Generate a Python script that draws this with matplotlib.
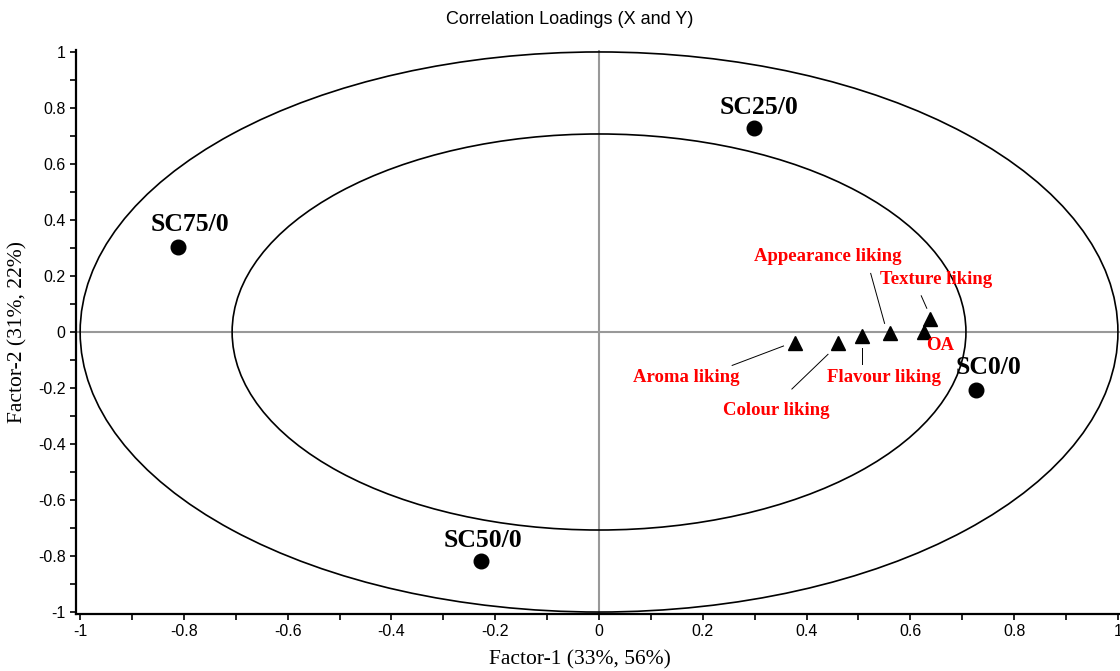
import numpy as np
import matplotlib
matplotlib.use('Agg')
import matplotlib.pyplot as plt
from matplotlib.patches import Ellipse
from matplotlib.ticker import MultipleLocator, FuncFormatter

# X loadings (samples)
sample_names = ['SC0/0', 'SC25/0', 'SC50/0', 'SC75/0']
sample_x = [0.727, 0.298, -0.227, -0.812]
sample_y = [-0.207, 0.729, -0.818, 0.304]

# Y loadings (liking attributes)
attr_names = ['Aroma liking', 'Colour liking', 'Flavour liking',
              'Appearance liking', 'OA', 'Texture liking']
attr_x = [0.377, 0.460, 0.506, 0.561, 0.627, 0.637]
attr_y = [-0.040, -0.040, -0.014, -0.004, 0.000, 0.045]

SERIF = ['Liberation Serif', 'DejaVu Serif']
SANS = ['Liberation Sans', 'DejaVu Sans']

fig = plt.figure(figsize=(11.2, 6.71), dpi=100)
ax = fig.add_axes([76 / 1120, 1 - 614 / 671, 1 - 76 / 1120, (614 - 50) / 671])
ax.set_xlim(-1.008, 1.004)
ax.set_ylim(-1.007, 1.007)

# explained variance circles (100% and 50%)
for r in (1.0, np.sqrt(0.5)):
    ax.add_patch(Ellipse((0, 0), 2 * r, 2 * r, fill=False, edgecolor='black',
                         linewidth=1.2, clip_on=False, zorder=2))

ax.axhline(0, color='#999999', linewidth=1.5, zorder=1)
ax.axvline(0, color='#999999', linewidth=1.5, zorder=1)

ax.plot(sample_x, sample_y, 'o', color='black', markersize=10.5, zorder=4, clip_on=False)
ax.plot(attr_x, attr_y, '^', color='black', markersize=10, zorder=4, clip_on=False)

# sample labels above points (offsets in points)
sample_off = {'SC0/0': (9, 16), 'SC25/0': (3.5, 15), 'SC50/0': (1.5, 15), 'SC75/0': (8.5, 16)}
for name, x, y in zip(sample_names, sample_x, sample_y):
    ax.annotate(name, (x, y), xytext=sample_off[name], textcoords='offset points',
                ha='center', va='center', fontsize=18.5, fontweight='bold',
                family=SERIF, color='black')

# attribute labels with leader lines (offsets in points)
label_pos = {
    'Aroma liking': (-78, -24.5),
    'Colour liking': (-44.5, -48.5),
    'Flavour liking': (16, -30),
    'Appearance liking': (-45, 55),
    'OA': (11.5, -10),
    'Texture liking': (5, 29),
}
leader = {
    'Aroma liking': ((-8, -2), (-45, -16)),
    'Colour liking': ((-7, -8), (-33, -33)),
    'Flavour liking': ((0, -9), (0, -20)),
    'Appearance liking': ((-4, 7), (-14, 43)),
    'OA': None,
    'Texture liking': ((-2, 8), (-6, 17)),
}
for name, x, y in zip(attr_names, attr_x, attr_y):
    dx, dy = label_pos[name]
    ax.annotate(name, (x, y), xytext=(dx, dy), textcoords='offset points',
                ha='center', va='center', fontsize=13.5, fontweight='bold',
                family=SERIF, color='red', zorder=5)
    if leader[name] is not None:
        (x0, y0), (x1, y1) = leader[name]
        p0 = ax.transData.transform((x, y))
        pts = np.array([[p0[0] + x0 * 100 / 72, p0[1] + y0 * 100 / 72],
                        [p0[0] + x1 * 100 / 72, p0[1] + y1 * 100 / 72]])
        pts = ax.transData.inverted().transform(pts)
        ax.plot(pts[:, 0], pts[:, 1], color='black', linewidth=0.7, zorder=3)

ticks = np.round(np.arange(-1, 1.01, 0.2), 1)
ax.set_xticks(ticks)
ax.set_yticks(ticks)
ax.xaxis.set_minor_locator(MultipleLocator(0.1))
ax.yaxis.set_minor_locator(MultipleLocator(0.1))
fmt = FuncFormatter(lambda v, p: f'{round(v, 1) + 0.0:g}')
ax.xaxis.set_major_formatter(fmt)
ax.yaxis.set_major_formatter(fmt)
ax.tick_params(which='both', direction='out', length=4, width=1.2, labelsize=11.5)
for lab in ax.get_xticklabels() + ax.get_yticklabels():
    lab.set_family(SANS)

for s in ('top', 'right'):
    ax.spines[s].set_visible(False)
for s in ('left', 'bottom'):
    ax.spines[s].set_linewidth(1.6)

ax.set_xlabel('Factor-1 (33%, 56%)', fontsize=15.5, family=SERIF)
ax.set_ylabel('Factor-2 (31%, 22%)', fontsize=15.5, family=SERIF)
ax.xaxis.set_label_coords((580 - 76) / 1044, -(660 - 614) / 564)
ax.yaxis.set_label_coords(-(76 - 18) / 1044, (614 - 332) / 564)
ax.xaxis.label.set_va('center')
ax.yaxis.label.set_va('center')
fig.text(570 / 1120, 1 - 20 / 671, 'Correlation Loadings (X and Y)',
         ha='center', va='center', fontsize=13, family=SANS)

fig.savefig('out.png', dpi=100)
